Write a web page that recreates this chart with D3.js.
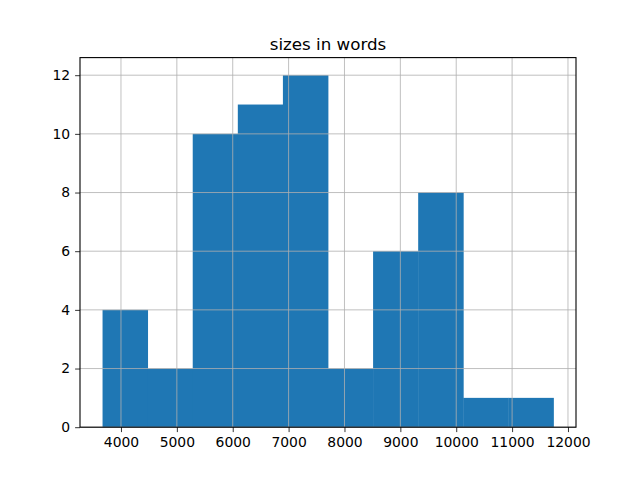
<!DOCTYPE html>
<html><head><meta charset="utf-8">
<script src="https://cdn.jsdelivr.net/npm/d3@7"></script>
<style>body{margin:0;background:#fff}svg{display:block}text{font-family:"DejaVu Sans",sans-serif;fill:#000}</style>
</head><body>
<script>
const binEdges = [3670, 4477, 5284, 6091, 6898, 7705, 8512, 9319, 10126, 10933, 11740];
const counts = [4, 2, 10, 11, 12, 2, 6, 8, 1, 1];
const xTicks = [4000, 5000, 6000, 7000, 8000, 9000, 10000, 11000, 12000];
const yTicks = [0, 2, 4, 6, 8, 10, 12];
const title = "sizes in words";

const W = 640, H = 480;
const L = 80, R = 576, T = 57.6, B = 427.2;
const svg = d3.select("body").append("svg").attr("width", W).attr("height", H);
const span = binEdges[binEdges.length-1] - binEdges[0];
const x = d3.scaleLinear().domain([binEdges[0] - span*0.05, binEdges[binEdges.length-1] + span*0.05]).range([L, R]);
const y = d3.scaleLinear().domain([0, d3.max(counts)*1.05]).range([B, T]);

const bins = counts.map((c, i) => ({x0: binEdges[i], x1: binEdges[i+1], c}));
svg.append("g").selectAll("rect").data(bins).enter().append("rect")
  .attr("x", d => x(d.x0)).attr("width", d => x(d.x1) - x(d.x0) + 0.4)
  .attr("y", d => y(d.c)).attr("height", d => B - y(d.c))
  .attr("fill", "#1f77b4");

// grid on top
const g = svg.append("g").attr("stroke", "#b0b0b0").attr("stroke-width", 0.8);
xTicks.forEach(t => g.append("line").attr("x1", x(t)).attr("x2", x(t)).attr("y1", T).attr("y2", B));
yTicks.forEach(t => g.append("line").attr("x1", L).attr("x2", R).attr("y1", y(t)).attr("y2", y(t)));

const xa = svg.append("g").attr("transform", `translate(0,${B})`)
  .call(d3.axisBottom(x).tickValues(xTicks).tickFormat(d3.format("d")).tickSize(4.9).tickPadding(4.9));
const ya = svg.append("g").attr("transform", `translate(${L},0)`)
  .call(d3.axisLeft(y).tickValues(yTicks).tickFormat(d3.format("d")).tickSize(4.9).tickPadding(4.9));
[xa, ya].forEach(a => {
  a.select(".domain").remove();
  a.selectAll("line").attr("stroke", "#000").attr("stroke-width", 0.8);
  a.selectAll("text").attr("font-size", "13.9px").attr("font-family", "DejaVu Sans");
});

svg.append("rect").attr("x", L).attr("y", T).attr("width", R-L).attr("height", B-T)
  .attr("fill", "none").attr("stroke", "#000").attr("stroke-width", 1.1);

svg.append("text").attr("x", (L+R)/2).attr("y", T - 7.5).attr("text-anchor", "middle")
  .attr("font-size", "16.7px").text(title);
</script>
</body></html>
